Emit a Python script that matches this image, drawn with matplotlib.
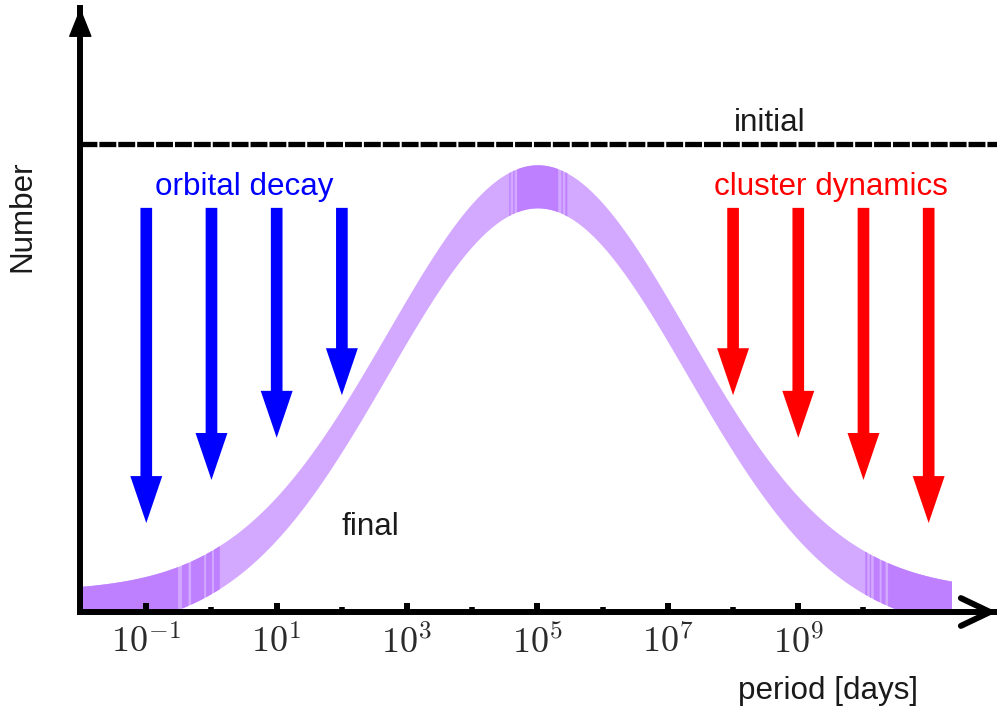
import numpy as np
import matplotlib
matplotlib.use("Agg")
import matplotlib.pyplot as plt
from matplotlib.patches import FancyArrowPatch, ArrowStyle
from matplotlib.ticker import FixedLocator, FixedFormatter, NullFormatter

plt.rcParams["font.family"] = ["Liberation Sans", "DejaVu Sans"]
plt.rcParams["mathtext.fontset"] = "cm"

# ---- data -------------------------------------------------------------
# log-normal period distribution (log10 P in days), heights relative to
# the initial level (= 1)
peak_logP = 5.0
sigma_logP = 2.3
peak_height = 0.909
band_halfwidth = 0.046
band_logP_range = (-2.0, 11.35)
initial_level = 1.0

# darker shading of the band (log10 P spans)
dark_spans = [(-2.0, -0.52), (-0.46, -0.36), (-0.32, -0.12), (-0.09, 0.0),
              (0.03, 0.12),
              (4.56, 4.58), (4.62, 4.64), (4.68, 5.31), (5.36, 5.38),
              (5.42, 5.45),
              (10.02, 10.05), (10.09, 10.11), (10.15, 10.24), (10.27, 10.33),
              (10.37, 11.35)]

# arrows: orbital decay (short periods) and cluster dynamics (long periods)
decay_logP = [-1, 0, 1, 2]
decay_tip = [0.190, 0.282, 0.372, 0.463]
cluster_logP = [8, 9, 10, 11]
cluster_tip = [0.463, 0.372, 0.282, 0.190]
arrow_start = 0.863

major_exp = [-1, 1, 3, 5, 7, 9]
minor_exp = [0, 2, 4, 6, 8, 10]
major_labels = [r"$10^{%d}$" % e for e in major_exp]

# ---- figure -----------------------------------------------------------
fig = plt.figure(figsize=(9.97, 7.11), dpi=100)
ax = fig.add_axes([80.3 / 997, 99 / 711, 916.7 / 997, 604 / 711])
ax.set_xscale("log")
ax.set_xlim(10 ** -2.012, 10 ** 12.048)
ax.set_ylim(0, 1.2898)

LIGHT = "#d3a8ff"
DARK = "#bf80ff"
TEXT = "#1a1a1a"


def band(lo, hi, color, z):
    lx = np.linspace(lo, hi, 400)
    yc = peak_height * np.exp(-0.5 * ((lx - peak_logP) / sigma_logP) ** 2)
    ax.fill_between(10 ** lx, yc - band_halfwidth, yc + band_halfwidth,
                    color=color, lw=0, zorder=z)


band(*band_logP_range, LIGHT, 1)
for lo, hi in dark_spans:
    band(lo, hi, DARK, 1.1)

# initial distribution
ax.axhline(initial_level, color="k", lw=3.8, dashes=(3.2, 0.38),
           zorder=3, clip_on=False)

style = ArrowStyle.Simple(head_length=33.8, head_width=23, tail_width=8.4)
for xs, tips, col in [(decay_logP, decay_tip, "#0000ff"),
                      (cluster_logP, cluster_tip, "#ff0000")]:
    for lp, tip in zip(xs, tips):
        ax.add_patch(FancyArrowPatch((10.0 ** lp, arrow_start),
                                     (10.0 ** lp, tip),
                                     arrowstyle=style, mutation_scale=1,
                                     shrinkA=0, shrinkB=0, lw=0,
                                     color=col, zorder=4))

# axes as arrows
for s in ["top", "right"]:
    ax.spines[s].set_visible(False)
for s in ["left", "bottom"]:
    ax.spines[s].set_linewidth(4.3)
    ax.spines[s].set_zorder(5)
ax.set_yticks([])

ax.xaxis.set_major_locator(FixedLocator([10.0 ** e for e in major_exp]))
ax.xaxis.set_major_formatter(FixedFormatter(major_labels))
ax.xaxis.set_minor_locator(FixedLocator([10.0 ** e for e in minor_exp]))
ax.xaxis.set_minor_formatter(NullFormatter())
ax.tick_params(axis="x", which="major", direction="in", length=6.7,
               width=4.3, pad=10, labelsize=26, labelcolor="#2b2b2b")
ax.tick_params(axis="x", which="minor", direction="in", length=3.6,
               width=4.0)

ax.annotate("", xy=(0, 1), xycoords="axes fraction", xytext=(0, 0.9),
            arrowprops=dict(arrowstyle="-|>,head_length=0.95,head_width=0.38",
                            mutation_scale=20, lw=1, color="k",
                            shrinkA=0, shrinkB=0), zorder=6)
ax.annotate("", xy=(1, 0), xycoords="axes fraction", xytext=(0.9, 0),
            arrowprops=dict(arrowstyle="->,head_length=1.05,head_width=0.5",
                            mutation_scale=20, lw=4.3, color="k",
                            shrinkA=0, shrinkB=0), zorder=6)

# labels
fs = 22.6
ax.text(10 ** 8.56, 1.027, "initial", fontsize=fs, color=TEXT,
        ha="center", va="baseline")
ax.text(10 ** 0.5, 0.890, "orbital decay", fontsize=fs, color="#0000ff",
        ha="center", va="baseline")
ax.text(10 ** 9.5, 0.890, "cluster dynamics", fontsize=fs, color="#ff0000",
        ha="center", va="baseline")
ax.text(10 ** 2.44, 0.1644, "final", fontsize=fs, color=TEXT,
        ha="center", va="baseline")
ax.text(10 ** 9.456, -0.186, "period [days]", fontsize=fs, color=TEXT,
        ha="center", va="baseline", clip_on=False)
fig.text(22 / 997, 1 - 216 / 711, "Number", fontsize=fs, color=TEXT,
         rotation=90, ha="center", va="center")

fig.savefig("out.png", dpi=100)
